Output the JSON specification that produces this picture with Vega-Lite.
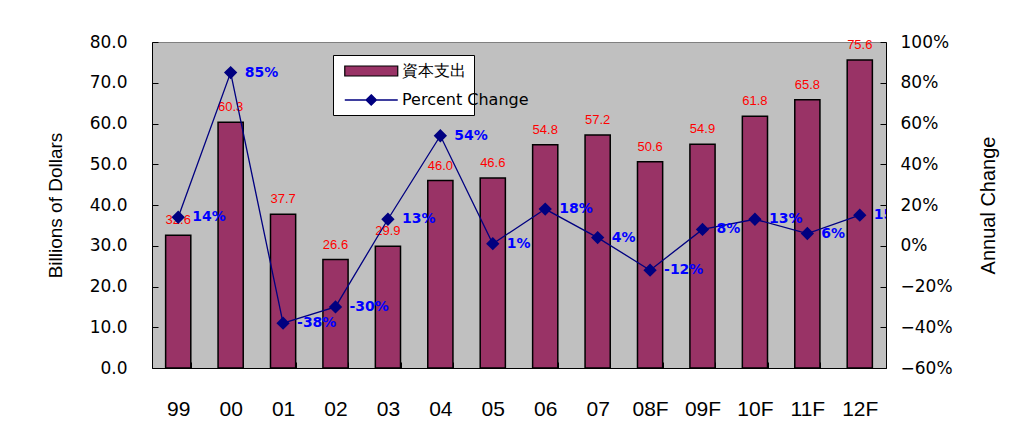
{
  "$schema": "https://vega.github.io/schema/vega-lite/v6.json",
  "autosize": {"type": "none"},
  "width": 734,
  "height": 326,
  "padding": {"left": 152, "top": 42, "right": 138, "bottom": 65},
  "background": "white",
  "config": {
    "font": "Liberation Sans",
    "view": {"fill": "#C0C0C0", "stroke": "#808080", "strokeWidth": 1},
    "axis": {"domainColor": "black", "tickColor": "black", "labelColor": "black", "titleColor": "black", "grid": false, "labelFont": "Liberation Sans", "titleFont": "Liberation Sans", "titleFontWeight": "normal"}
  },
  "data": {
    "values": [
      {"year": "99", "capex": 32.6, "pct": 0.14, "pctLabel": "14%"},
      {"year": "00", "capex": 60.3, "pct": 0.85, "pctLabel": "85%"},
      {"year": "01", "capex": 37.7, "pct": -0.38, "pctLabel": "-38%"},
      {"year": "02", "capex": 26.6, "pct": -0.30, "pctLabel": "-30%"},
      {"year": "03", "capex": 29.9, "pct": 0.13, "pctLabel": "13%"},
      {"year": "04", "capex": 46.0, "pct": 0.54, "pctLabel": "54%"},
      {"year": "05", "capex": 46.6, "pct": 0.01, "pctLabel": "1%"},
      {"year": "06", "capex": 54.8, "pct": 0.18, "pctLabel": "18%"},
      {"year": "07", "capex": 57.2, "pct": 0.04, "pctLabel": "4%"},
      {"year": "08F", "capex": 50.6, "pct": -0.12, "pctLabel": "-12%"},
      {"year": "09F", "capex": 54.9, "pct": 0.08, "pctLabel": "8%"},
      {"year": "10F", "capex": 61.8, "pct": 0.13, "pctLabel": "13%"},
      {"year": "11F", "capex": 65.8, "pct": 0.06, "pctLabel": "6%"},
      {"year": "12F", "capex": 75.6, "pct": 0.15, "pctLabel": "15%"}
    ]
  },
  "encoding": {
    "x": {
      "field": "year", "type": "nominal", "sort": null,
      "scale": {"paddingInner": 0.52, "paddingOuter": 0.26},
      "axis": {"title": null, "labelAngle": 0, "labelFontSize": 21, "labelPadding": 36, "tickBand": "extent", "tickSize": -6, "domainColor": "black"}
    }
  },
  "layer": [
    {
      "encoding": {
        "y": {
          "field": "capex", "type": "quantitative",
          "scale": {"domain": [0, 80], "nice": false},
          "axis": {"values": [0, 10, 20, 30, 40, 50, 60, 70, 80], "format": ".1f", "labelFont": "DejaVu Sans", "labelFontSize": 17, "labelPadding": 31, "tickSize": -6, "title": "Billions of Dollars", "titleFontSize": 19, "titlePadding": 24}
        }
      },
      "layer": [
        {
          "mark": {"type": "bar", "stroke": "black", "strokeWidth": 1.5},
          "encoding": {
            "color": {
              "datum": "資本支出",
              "scale": {"domain": ["資本支出"], "range": ["#993366"]},
              "legend": {
                "title": "\u3000", "titleOrient": "bottom", "titleFontSize": 14, "titlePadding": 14,
                "orient": "none", "legendX": 181, "legendY": 13, "direction": "vertical",
                "fillColor": "white", "strokeColor": "black", "padding": 8,
                "labelFontSize": 16, "labelFont": "DejaVu Sans", "labelColor": "black", "labelOffset": 45,
                "labelExpr": "datum.label + '\u3000\u3000\u3000\u3000\u3000 \u3000'",
                "symbolSize": 169, "symbolType": "M-0.65,-0.77H7.5V0.77H-0.65Z",
                "symbolStrokeColor": "black", "symbolStrokeWidth": 1.2, "symbolOpacity": 1
              }
            }
          }
        },
        {
          "mark": {"type": "text", "color": "#FF0000", "fontSize": 13, "baseline": "bottom", "dy": -8, "font": "Liberation Sans"},
          "encoding": {"text": {"field": "capex", "type": "quantitative", "format": ".1f"}}
        }
      ]
    },
    {
      "encoding": {
        "y": {
          "field": "pct", "type": "quantitative",
          "scale": {"domain": [-0.6, 1.0], "nice": false},
          "axis": {"orient": "right", "values": [-0.6, -0.4, -0.2, 0, 0.2, 0.4, 0.6, 0.8, 1.0], "format": ".0%", "labelFont": "DejaVu Sans", "labelFontSize": 17, "labelPadding": 20, "tickSize": -6, "title": "Annual Change", "titleFontSize": 20, "titleAngle": 270, "titlePadding": 46}
        }
      },
      "layer": [
        {
          "mark": {"type": "line", "color": "#000080", "strokeWidth": 1.3, "point": {"shape": "diamond", "size": 110, "filled": true, "color": "#000080"}},
          "encoding": {
            "stroke": {
              "datum": "Percent Change",
              "scale": {"domain": ["Percent Change"], "range": ["#000080"]},
              "legend": {
                "title": null, "orient": "none", "legendX": 189, "legendY": 50, "direction": "vertical",
                "padding": 0,
                "labelFontSize": 16, "labelFont": "DejaVu Sans", "labelColor": "black", "labelOffset": 45,
                "symbolSize": 169, "symbolType": "M-0.65,0H7.5M3.42,-0.8L4.22,0L3.42,0.8L2.62,0Z",
                "symbolFillColor": "#000080", "symbolStrokeColor": "#000080", "symbolStrokeWidth": 1.3, "symbolOpacity": 1
              }
            }
          }
        },
        {
          "mark": {"type": "text", "color": "#0000FF", "fontSize": 14, "fontWeight": "bold", "align": "left", "baseline": "middle", "dx": 14, "font": "DejaVu Sans", "clip": true},
          "encoding": {"text": {"field": "pctLabel", "type": "nominal"}}
        }
      ]
    }
  ],
  "resolve": {"scale": {"y": "independent"}}
}
